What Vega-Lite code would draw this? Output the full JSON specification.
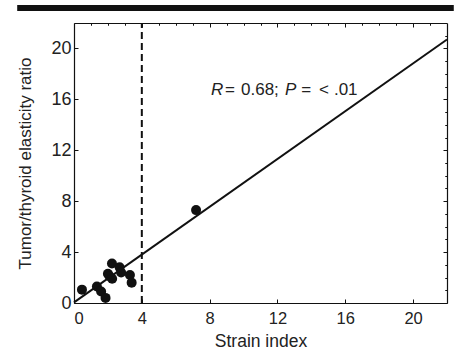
{
  "$schema": "https://vega.github.io/schema/vega-lite/v6.json",
  "width": 373,
  "height": 280,
  "autosize": "none",
  "padding": {"left": 74, "top": 23, "right": 7, "bottom": 53},
  "background": "white",
  "config": {
    "view": {"stroke": null},
    "axis": {"labelFont": "Liberation Sans", "titleFont": "Liberation Sans", "labelFontSize": 16, "titleFontSize": 16, "labelColor": "#222", "titleColor": "#222", "titleFontWeight": "normal", "domainColor": "#111", "tickColor": "#111", "grid": false, "domainWidth": 1.2, "tickWidth": 1}
  },
  "datasets": {
    "pts": [
      {"strain": 0.47, "ratio": 1.05},
      {"strain": 1.35, "ratio": 1.3},
      {"strain": 1.6, "ratio": 0.9},
      {"strain": 1.86, "ratio": 0.4},
      {"strain": 2.0, "ratio": 2.3},
      {"strain": 2.1, "ratio": 2.1},
      {"strain": 2.25, "ratio": 1.9},
      {"strain": 2.24, "ratio": 3.1},
      {"strain": 2.69, "ratio": 2.8},
      {"strain": 2.78, "ratio": 2.4},
      {"strain": 3.3, "ratio": 2.2},
      {"strain": 3.4, "ratio": 1.6},
      {"strain": 7.2, "ratio": 7.3}
    ],
    "fit": [
      {"strain": 0, "ratio": 0.05},
      {"strain": 22, "ratio": 20.7}
    ],
    "cutoff": [
      {"strain": 4, "ratio": 0},
      {"strain": 4, "ratio": 22}
    ],
    "annItalic": [
      {"x": 8.08, "y": 16.34, "t": "R"},
      {"x": 12.45, "y": 16.34, "t": "P"}
    ],
    "annNormal": [
      {"x": 8.9, "y": 16.34, "t": "="},
      {"x": 9.85, "y": 16.34, "t": "0.68;"},
      {"x": 13.4, "y": 16.34, "t": "="},
      {"x": 14.45, "y": 16.34, "t": "<"},
      {"x": 15.33, "y": 16.34, "t": ".01"}
    ],
    "bar": [
      {"x": -3.35, "x2": 22.4, "y": 23.17}
    ]
  },
  "resolve": {"axis": {"x": "independent", "y": "independent"}},
  "layer": [
    {
      "data": {"name": "pts"},
      "mark": {"type": "point", "filled": true, "size": 100, "color": "#111", "opacity": 1},
      "encoding": {
        "x": {"field": "strain", "type": "quantitative", "scale": {"domain": [0, 22], "nice": false},
          "axis": {"values": [0, 4, 8, 12, 16, 20], "title": "Strain index", "tickSize": -4, "labelFontSize": 16.5, "labelPadding": 11, "titleFontSize": 17.5, "titlePadding": 6}},
        "y": {"field": "ratio", "type": "quantitative", "scale": {"domain": [0, 22], "nice": false},
          "axis": {"values": [0, 4, 8, 12, 16, 20], "title": "Tumor/thyroid elasticity ratio", "tickSize": -4, "labelFontSize": 18, "labelPadding": 7, "titleFontSize": 17, "titlePadding": 16}}
      }
    },
    {
      "data": {"name": "fit"},
      "mark": {"type": "line", "color": "#111", "strokeWidth": 2},
      "encoding": {
        "x": {"field": "strain", "type": "quantitative", "scale": {"domain": [0, 22], "nice": false},
          "axis": {"values": [1,2,3,5,6,7,9,10,11,13,14,15,17,18,19,21], "labels": false, "title": null, "tickSize": -2, "domain": false}},
        "y": {"field": "ratio", "type": "quantitative", "scale": {"domain": [0, 22], "nice": false},
          "axis": {"values": [1,2,3,5,6,7,9,10,11,13,14,15,17,18,19,21], "labels": false, "title": null, "tickSize": -2, "domain": false}}
      }
    },
    {
      "data": {"name": "cutoff"},
      "mark": {"type": "line", "color": "#111", "strokeWidth": 2, "strokeDash": [7, 4]},
      "encoding": {
        "x": {"field": "strain", "type": "quantitative", "scale": {"domain": [0, 22], "nice": false},
          "axis": {"orient": "top", "values": [0, 4, 8, 12, 16, 20], "labels": false, "title": null, "tickSize": -4}},
        "y": {"field": "ratio", "type": "quantitative", "scale": {"domain": [0, 22], "nice": false},
          "axis": {"orient": "right", "values": [0, 4, 8, 12, 16, 20], "labels": false, "title": null, "tickSize": -4}}
      }
    },
    {
      "data": {"name": "annItalic"},
      "mark": {"type": "text", "align": "left", "baseline": "alphabetic", "font": "Liberation Sans", "fontSize": 17, "fontStyle": "italic", "color": "#222"},
      "encoding": {
        "x": {"field": "x", "type": "quantitative", "scale": {"domain": [0, 22], "nice": false},
          "axis": {"orient": "top", "values": [1,2,3,5,6,7,9,10,11,13,14,15,17,18,19,21], "labels": false, "title": null, "tickSize": -2, "domain": false}},
        "y": {"field": "y", "type": "quantitative", "scale": {"domain": [0, 22], "nice": false},
          "axis": {"orient": "right", "values": [1,2,3,5,6,7,9,10,11,13,14,15,17,18,19,21], "labels": false, "title": null, "tickSize": -2, "domain": false}},
        "text": {"field": "t"}
      }
    },
    {
      "data": {"name": "annNormal"},
      "mark": {"type": "text", "align": "left", "baseline": "alphabetic", "font": "Liberation Sans", "fontSize": 17, "color": "#222"},
      "encoding": {
        "x": {"field": "x", "type": "quantitative", "scale": {"domain": [0, 22], "nice": false}, "axis": null},
        "y": {"field": "y", "type": "quantitative", "scale": {"domain": [0, 22], "nice": false}, "axis": null},
        "text": {"field": "t"}
      }
    },
    {
      "data": {"name": "bar"},
      "mark": {"type": "rule", "color": "#111", "strokeWidth": 6, "clip": false},
      "encoding": {
        "x": {"field": "x", "type": "quantitative", "scale": {"domain": [0, 22], "nice": false}, "axis": null},
        "x2": {"field": "x2"},
        "y": {"field": "y", "type": "quantitative", "scale": {"domain": [0, 22], "nice": false}, "axis": null}
      }
    }
  ]
}
